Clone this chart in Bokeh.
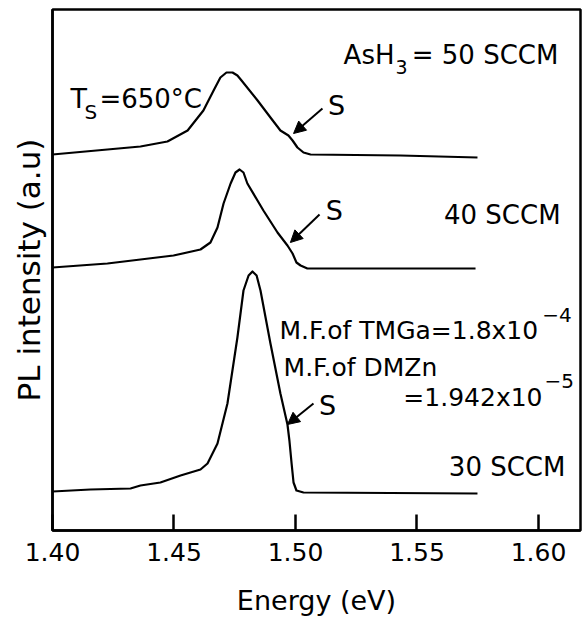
from bokeh.plotting import figure
from bokeh.models import Range1d, FixedTicker, Arrow, NormalHead
from bokeh.core.properties import value
from bokeh.embed import file_html
from bokeh.resources import INLINE

# ---- data ----
e50 = [1.4000, 1.4226, 1.4362, 1.4473, 1.4556, 1.4621, 1.4663, 1.4691, 1.4716, 1.4741,
       1.4761, 1.4778, 1.4844, 1.4897, 1.4938, 1.4971, 1.4988, 1.5008, 1.5033, 1.5062,
       1.5432, 1.5749]
i50 = [3.76, 3.81, 3.84, 3.89, 4.00, 4.20, 4.40, 4.53, 4.58, 4.58,
       4.55, 4.50, 4.30, 4.13, 4.00, 3.95, 3.90, 3.83, 3.78, 3.76,
       3.75, 3.73]

e40 = [1.4000, 1.4226, 1.4498, 1.4609, 1.4650, 1.4679, 1.4704, 1.4733, 1.4753, 1.4770,
       1.4786, 1.4802, 1.4868, 1.4926, 1.4967, 1.4988, 1.5004, 1.5021, 1.5049, 1.5741]
i40 = [2.63, 2.67, 2.75, 2.81, 2.88, 3.03, 3.27, 3.47, 3.58, 3.61,
       3.58, 3.47, 3.20, 2.98, 2.85, 2.77, 2.68, 2.65, 2.62, 2.62]

e30 = [1.4000, 1.4156, 1.4321, 1.4362, 1.4444, 1.4527, 1.4609, 1.4638, 1.4679, 1.4720,
       1.4761, 1.4786, 1.4807, 1.4823, 1.4840, 1.4856, 1.4897, 1.4938, 1.4967, 1.4975,
       1.4984, 1.4992, 1.5004, 1.5033, 1.5749]
i30 = [0.39, 0.41, 0.42, 0.45, 0.48, 0.55, 0.61, 0.67, 0.87, 1.27,
       1.93, 2.40, 2.55, 2.59, 2.55, 2.40, 1.87, 1.37, 1.06, 0.90,
       0.67, 0.48, 0.40, 0.38, 0.37]

tick_values = [1.40, 1.45, 1.50, 1.55, 1.60]
tick_labels = ["1.40", "1.45", "1.50", "1.55", "1.60"]

# shoulder "S" arrows: (tail x, tail y, head x, head y)
arrow_tail_x = [1.5111, 1.5099, 1.5074]
arrow_tail_y = [4.22, 3.16, 1.27]
arrow_head_x = [1.4992, 1.4979, 1.4967]
arrow_head_y = [3.97, 2.88, 1.06]
s_x = [1.5169, 1.5160, 1.5132]
s_y = [4.25, 3.20, 1.25]

FONT = "DejaVu Sans"

p = figure(width=584, height=620, output_backend="svg", toolbar_location=None,
           x_range=Range1d(1.40, 1.6173), y_range=Range1d(0, 5.21),
           min_border_left=52, min_border_right=4, min_border_top=9, min_border_bottom=90)
p.background_fill_color = "white"
p.border_fill_color = "white"
p.xgrid.visible = False
p.ygrid.visible = False
p.outline_line_color = "black"
p.outline_line_width = 2.5

# x axis
xa = p.xaxis[0]
xa.ticker = FixedTicker(ticks=tick_values)
xa.major_label_overrides = {v: l for v, l in zip(tick_values, tick_labels)}
xa.major_tick_in = 16
xa.major_tick_out = 0
xa.minor_tick_line_color = None
xa.major_tick_line_width = 2.5
xa.axis_line_width = 2.5
xa.major_label_text_font = FONT
xa.major_label_text_font_size = "25px"
xa.major_label_text_color = "black"
xa.major_label_standoff = 12
xa.axis_label = "Energy (eV)"
xa.axis_label_text_font = FONT
xa.axis_label_text_font_size = "27px"
xa.axis_label_text_font_style = "normal"
xa.axis_label_text_color = "black"
xa.axis_label_standoff = 21

# y axis
ya = p.yaxis[0]
ya.ticker = FixedTicker(ticks=[])
ya.major_tick_in = 0
ya.major_tick_out = 0
ya.minor_tick_line_color = None
ya.major_label_standoff = 0
ya.axis_line_width = 2.5
ya.axis_label = "PL intensity (a.u)"
ya.axis_label_text_font = FONT
ya.axis_label_text_font_size = "31px"
ya.axis_label_text_font_style = "normal"
ya.axis_label_text_color = "black"
ya.axis_label_standoff = 6

# curves
for ex, iy in [(e50, i50), (e40, i40), (e30, i30)]:
    p.line(ex, iy, line_color="black", line_width=2.2, line_join="round")

# arrows
for xs, ys, xe, ye in zip(arrow_tail_x, arrow_tail_y, arrow_head_x, arrow_head_y):
    p.add_layout(Arrow(x_start=xs, y_start=ys, x_end=xe, y_end=ye, line_width=2,
                       line_color="black",
                       end=NormalHead(size=12, fill_color="black", line_color="black")))

p.text(x=s_x, y=s_y, text=["S", "S", "S"], text_font=value(FONT), text_font_size="27px",
       text_align="center", text_baseline="middle", text_color="black")


def txt(x, y, t, size, align="left"):
    p.text(x=[x], y=[y], text=[t], text_font=value(FONT), text_font_size=size,
           text_align=align, text_baseline="middle", text_color="black")


txt(1.4074, 4.32, "T", "27px")
txt(1.4132, 4.19, "S", "20px")
txt(1.4193, 4.32, "=650°C", "26px")
txt(1.5198, 4.76, "AsH", "26px")
txt(1.5412, 4.64, "3", "19px")
txt(1.6082, 4.76, "= 50 SCCM", "26px", "right")
txt(1.6091, 3.16, "40 SCCM", "26px", "right")
txt(1.6111, 0.64, "30 SCCM", "26px", "right")
txt(1.4934, 2.00, "M.F.of TMGa=1.8x10", "25px")
txt(1.6016, 2.16, "−4", "20px")
txt(1.4951, 1.63, "M.F.of DMZn", "25px")
txt(1.5444, 1.33, "=1.942x10", "25px")
txt(1.6025, 1.50, "−5", "20px")

open("out.html", "w").write(file_html(p, INLINE))
